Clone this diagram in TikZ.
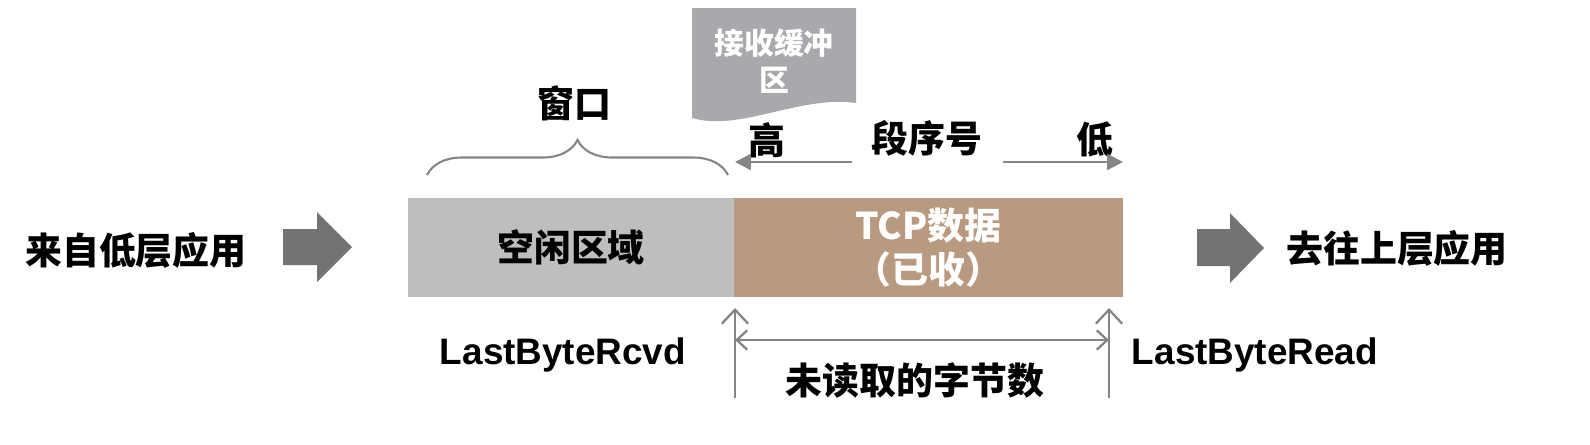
\documentclass[tikz,border=0pt]{standalone}
\usepackage{fontspec}
\setmainfont{Liberation Sans}
\newfontfamily\cjk{Noto Sans CJK SC}
\newfontfamily\latinbold{Liberation Sans Bold}
\usetikzlibrary{arrows.meta,decorations.pathreplacing}
\definecolor{freegray}{HTML}{BEBEBE}
\definecolor{databrown}{HTML}{B89A80}
\definecolor{bufgray}{HTML}{A7A9AC}
\definecolor{arrowgray}{HTML}{737373}
\definecolor{linegray}{HTML}{858585}
\tikzset{
  bigtext/.style={font=\cjk\bfseries\fontsize{21}{25}\selectfont},
  labeltext/.style={font=\latinbold\fontsize{21}{25}\selectfont},
  area/.style={minimum height=1.98cm, inner sep=0pt},
  ptr/.style={linegray, line width=1.3pt, -{Straight Barb[length=8pt,width=15pt]}},
  span/.style={linegray, line width=1.3pt, {Straight Barb[length=6pt,width=11pt]}-{Straight Barb[length=6pt,width=11pt]}},
  seq/.style={linegray, line width=1.4pt, -{Triangle[length=9pt,width=9pt]}},
  blockarrow/.style={fill=arrowgray, draw=none}
}
\begin{document}
\begin{tikzpicture}[x=0.02cm, y=-0.02cm]
\useasboundingbox (0,0) rectangle (1590,444);
% buffer areas
\node (free) at (571,247.5) [area, fill=freegray, minimum width=6.52cm, bigtext] {空闲区域};
\node (recv) at (928.5,247.5) [area, fill=databrown, minimum width=7.78cm, bigtext, text=white, align=center] {TCP数据\\（已收）};
% buffer tag
\fill[bufgray] (692,8) -- (856,8) -- (856,103) .. controls (800,95) and (740,132) .. (692,118) -- cycle;
\node (buftag) at (774,61) [font=\cjk\bfseries\fontsize{17}{21}\selectfont, text=white, align=center] {接收缓冲\\区};
% window brace
\draw[linegray, line width=1.2pt, decorate, decoration={brace, amplitude=0.7cm}] (427,175) -- (728,175);
\node (window) at (574,103) [bigtext] {窗口};
% sequence number direction
\node (high) at (767,140) [bigtext] {高};
\node (seqno) at (927,138) [bigtext] {段序号};
\node (low) at (1095,140) [bigtext] {低};
\coordinate (hifrom) at (852,162);
\coordinate (hito) at (735,162);
\coordinate (lofrom) at (1003,162);
\coordinate (loto) at (1123,162);
\draw[seq] (hifrom) -- (hito);
\draw[seq] (lofrom) -- (loto);
% block arrows in and out
\node (lower) at (136,250) [bigtext] {来自低层应用};
\fill[blockarrow] (283,229) -- (317,229) -- (317,212) -- (352,247) -- (317,282) -- (317,265) -- (283,265) -- cycle;
\fill[blockarrow] (1197,229) -- (1230,229) -- (1230,213) -- (1264,248) -- (1230,283) -- (1230,266) -- (1197,266) -- cycle;
\node (upper) at (1397,248) [bigtext] {去往上层应用};
% pointers
\coordinate (rcvdfoot) at (735,398);
\coordinate (rcvdtop) at (735,308);
\coordinate (readfoot) at (1109,398);
\coordinate (readtop) at (1109,308);
\draw[ptr] (rcvdfoot) -- (rcvdtop);
\draw[ptr] (readfoot) -- (readtop);
\coordinate (unl) at (735,340);
\coordinate (unr) at (1109,340);
\draw[span] (unl) -- (unr);
\node (rcvd) at (563,355) [labeltext] {LastByteRcvd};
\node (read) at (1255,355) [labeltext] {LastByteRead};
\node (unread) at (915,380) [bigtext] {未读取的字节数};
\end{tikzpicture}
\end{document}
